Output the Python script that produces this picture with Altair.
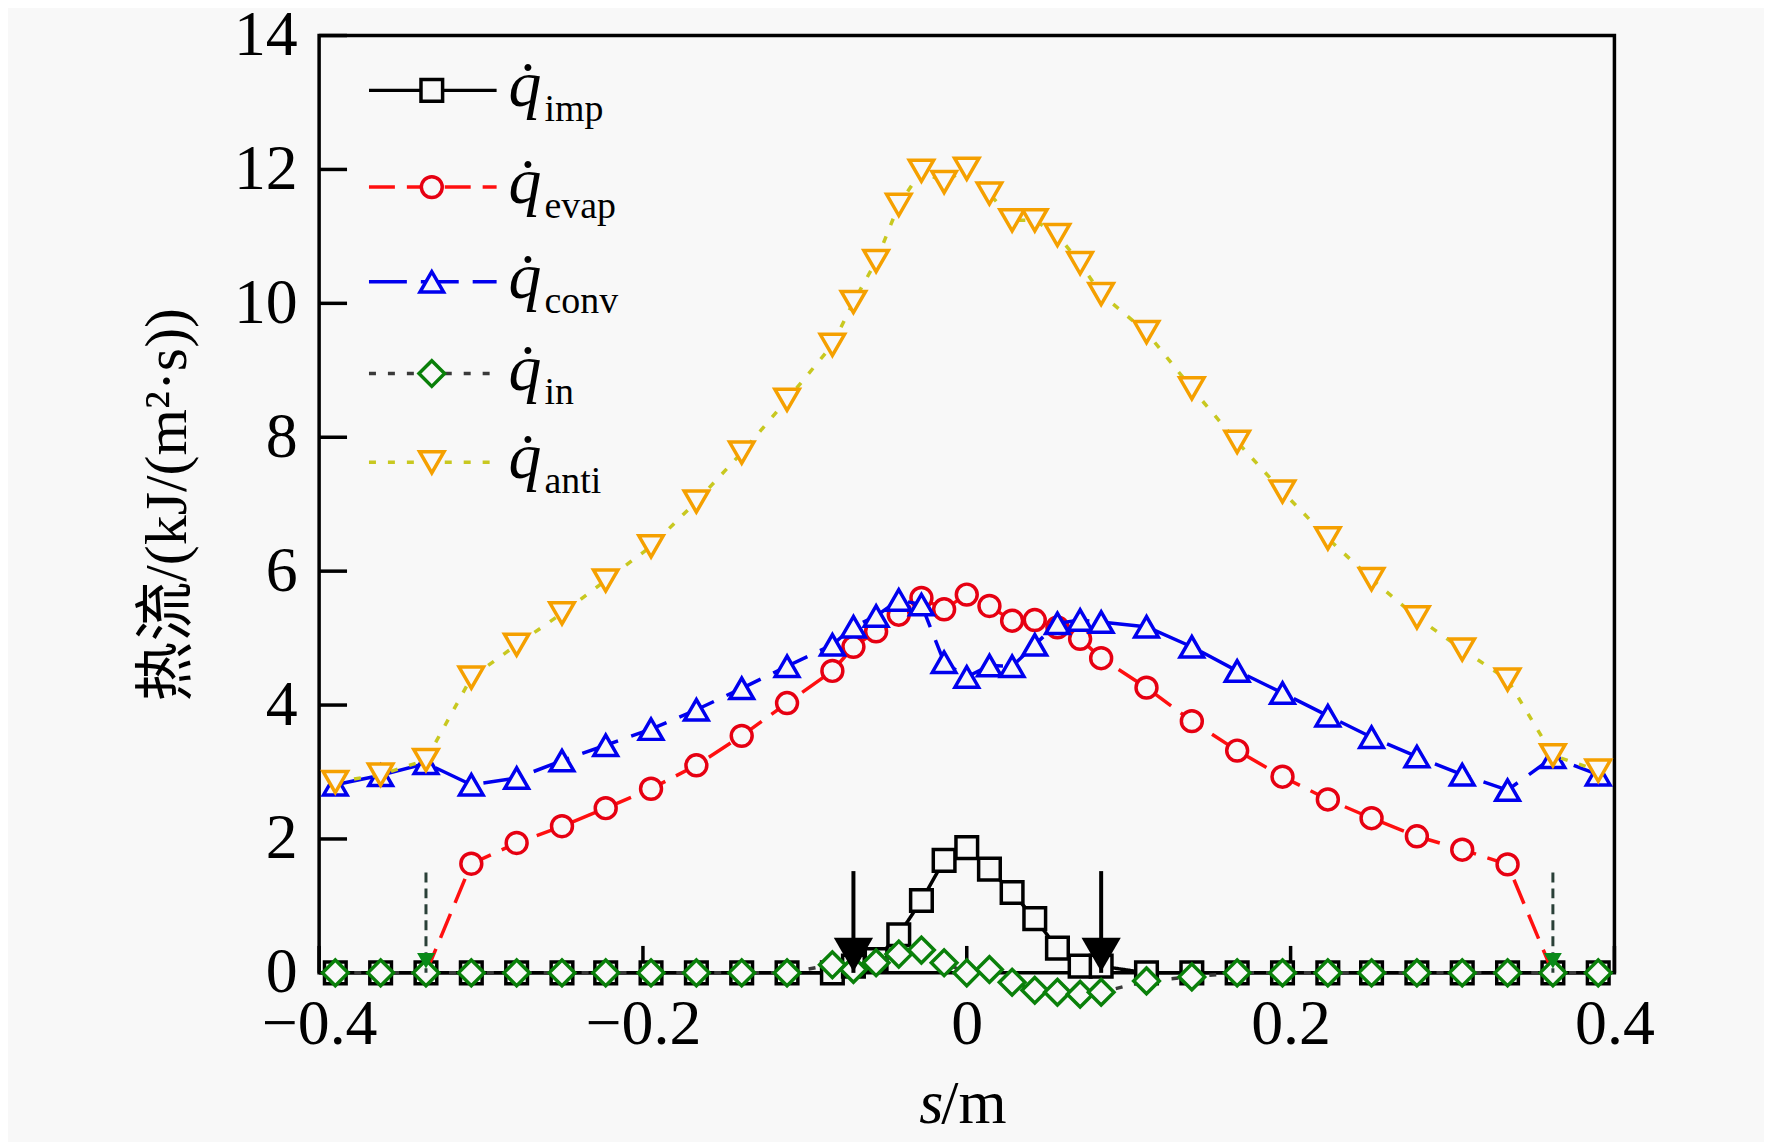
import altair as alt
import pandas as pd

# ---------------- data ----------------
s_m = [-0.390, -0.362, -0.334, -0.306, -0.278, -0.250, -0.223, -0.195, -0.167, -0.139, -0.111,
       -0.083, -0.070, -0.056, -0.042, -0.028, -0.014, 0.000, 0.014, 0.028, 0.042, 0.056, 0.070, 0.083,
       0.111, 0.139, 0.167, 0.195, 0.223, 0.250, 0.278, 0.306, 0.334, 0.362, 0.390]

q_imp = [0, 0, 0, 0, 0, 0, 0, 0, 0, 0, 0,
         0, 0.10, 0.20, 0.57, 1.08, 1.68, 1.87, 1.55, 1.20, 0.81, 0.37, 0.10, 0.10,
         0, 0, 0, 0, 0, 0, 0, 0, 0, 0, 0]

q_evap = [None, None, 0.0, 1.63, 1.94, 2.19, 2.46, 2.75, 3.10, 3.54, 4.03,
          4.51, 4.87, 5.10, 5.35, 5.60, 5.43, 5.65, 5.48, 5.26, 5.27, 5.16, 4.99, 4.70,
          4.26, 3.76, 3.32, 2.93, 2.59, 2.31, 2.04, 1.84, 1.62, 0.0, None]

q_conv = [2.81, 2.95, 3.13, 2.81, 2.91, 3.17, 3.40, 3.64, 3.93, 4.25, 4.58,
          4.90, 5.17, 5.33, 5.57, 5.50, 4.64, 4.42, 4.59, 4.58, 4.90, 5.22, 5.27, 5.24,
          5.17, 4.87, 4.51, 4.18, 3.84, 3.52, 3.23, 2.96, 2.73, 3.22, 2.96]

q_in = [0, 0, 0, 0, 0, 0, 0, 0, 0, 0, 0,
        0.12, 0.05, 0.15, 0.28, 0.34, 0.15, 0.00, 0.05, -0.14, -0.26, -0.29, -0.32, -0.29,
        -0.12, -0.06, 0, 0, 0, 0, 0, 0, 0, 0, 0]

q_anti = [2.85, 2.96, 3.18, 4.41, 4.90, 5.37, 5.86, 6.37, 7.04, 7.77, 8.56,
          9.38, 10.02, 10.63, 11.47, 11.98, 11.81, 12.01, 11.64, 11.24, 11.24, 11.02, 10.60, 10.14,
          9.57, 8.73, 7.93, 7.19, 6.49, 5.88, 5.31, 4.83, 4.38, 3.25, 3.02]

subscripts = ["imp", "evap", "conv", "in", "anti"]

# impingement-limit arrows (black) and icing-onset arrows (green)
arrow_s = [-0.070, 0.083]
arrow_top = [1.52, 1.52]
arrow_head = [0.27, 0.27]
onset_s = [-0.334, 0.362]
onset_top = [1.50, 1.50]
onset_head = [0.18, 0.18]

x_ticks = [-0.4, -0.2, 0.0, 0.2, 0.4]
y_ticks = [0, 2, 4, 6, 8, 10, 12, 14]

# ---------------- styles ----------------
BG = "#f8f8f8"
SERIF = "Liberation Serif, Noto Sans CJK SC"
W, H = 1299, 940
LW = 3.5

styles = [
    dict(line="black", dash=[1, 0], shape="square", size=470, stroke="black", hide_zero=False),
    dict(line="#ff1010", dash=[26, 12], shape="circle", size=440, stroke="#e60012", hide_zero=True),
    dict(line="#0000ee", dash=[38, 14], shape="triangle-up", size=560, stroke="#0000ee", hide_zero=False),
    dict(line="#3a3a3a", dash=[7, 12], shape="diamond", size=660, stroke="#0a800a", hide_zero=False),
    dict(line="#c8c820", dash=[7, 12], shape="triangle-down", size=600, stroke="#f5a000", hide_zero=False),
]
series_vals = [q_imp, q_evap, q_conv, q_in, q_anti]
legend_y = [55, 152, 247, 339, 428]

xsc = alt.Scale(domain=[-0.4, 0.4], nice=False, zero=False)
ysc = alt.Scale(domain=[0, 14], nice=False, zero=False)

xax = alt.Axis(values=x_ticks, format=".1~f", title=None, grid=False, domain=False, ticks=False,
               labelFont=SERIF, labelFontSize=64, labelColor="black", labelPadding=20,
               labelFlush=False, labelOverlap=False)
yax = alt.Axis(values=y_ticks, format="d", title="热流/(kJ/(m²·s))", grid=False, domain=False,
               ticks=False, labelFont=SERIF, labelFontSize=64, labelColor="black", labelPadding=22,
               labelFlush=False, labelOverlap=False,
               titleFont=SERIF, titleFontSize=60, titleFontWeight="normal", titleColor="black",
               titleX=-152, titleY=470, titleAngle=270, titleAlign="center", titleBaseline="middle")


def X(field="s"):
    return alt.X(f"{field}:Q", scale=xsc, axis=xax)


def Y(field="v"):
    return alt.Y(f"{field}:Q", scale=ysc, axis=yax)


layers = []

# inward ticks
layers.append(
    alt.Chart(pd.DataFrame({"s": x_ticks})).mark_rule(color="black", strokeWidth=3.5)
    .encode(x=X(), y=alt.value(H), y2=alt.value(H - 27))
)
layers.append(
    alt.Chart(pd.DataFrame({"v": y_ticks})).mark_rule(color="black", strokeWidth=3.5)
    .encode(y=Y(), x=alt.value(0), x2=alt.value(28))
)

# series
for vals, st in zip(series_vals, styles):
    df = pd.DataFrame({"s": s_m, "v": vals}).dropna()
    layers.append(
        alt.Chart(df).mark_line(color=st["line"], strokeDash=st["dash"], strokeWidth=LW)
        .encode(x=X(), y=Y())
    )
    pdf = df[df["v"] != 0] if st["hide_zero"] else df
    layers.append(
        alt.Chart(pdf).mark_point(shape=st["shape"], size=st["size"], filled=True, fill=BG,
                                  stroke=st["stroke"], strokeWidth=LW, opacity=1)
        .encode(x=X(), y=Y())
    )

# black arrows
adf = pd.DataFrame({"s": arrow_s, "v": arrow_top, "v2": [0.0, 0.0], "h": arrow_head})
layers.append(
    alt.Chart(adf).mark_rule(color="black", strokeWidth=4)
    .encode(x=X(), y=Y(), y2="v2:Q")
)
layers.append(
    alt.Chart(adf).mark_point(shape="triangle-down", size=1550, filled=True, color="black", opacity=1)
    .encode(x=X(), y=Y("h"))
)

# green onset arrows
odf = pd.DataFrame({"s": onset_s, "v": onset_top, "v2": [0.0, 0.0], "h": onset_head})
layers.append(
    alt.Chart(odf).mark_rule(color="#2a4038", strokeWidth=3, strokeDash=[10, 6])
    .encode(x=X(), y=Y(), y2="v2:Q")
)
layers.append(
    alt.Chart(odf).mark_point(shape="triangle-down", size=320, filled=True, color="#0a8a1a", opacity=1)
    .encode(x=X(), y=Y("h"))
)

# legend
one = pd.DataFrame({"a": [0]})
for ry, st, sub in zip(legend_y, styles, subscripts):
    layers.append(
        alt.Chart(one).mark_rule(color=st["line"], strokeDash=st["dash"], strokeWidth=LW)
        .encode(x=alt.value(50), x2=alt.value(178), y=alt.value(ry))
    )
    layers.append(
        alt.Chart(one).mark_point(shape=st["shape"], size=st["size"], filled=True, fill=BG,
                                  stroke=st["stroke"], strokeWidth=LW, opacity=1)
        .encode(x=alt.value(113), y=alt.value(ry))
    )
    layers.append(
        alt.Chart(one).mark_text(text="q\u0307", font=SERIF, fontStyle="italic", fontSize=66,
                                 align="left", baseline="alphabetic", color="black")
        .encode(x=alt.value(190), y=alt.value(ry + 16))
    )
    layers.append(
        alt.Chart(one).mark_text(text=sub, font=SERIF, fontSize=38, align="left",
                                 baseline="alphabetic", color="black")
        .encode(x=alt.value(226), y=alt.value(ry + 31))
    )

# x-axis title "s/m" with italic s
layers.append(
    alt.Chart(one).mark_text(text="s", font=SERIF, fontStyle="italic", fontSize=62,
                             align="right", baseline="alphabetic", color="black")
    .encode(x=alt.value(626), y=alt.value(1091))
)
layers.append(
    alt.Chart(one).mark_text(text="/m", font=SERIF, fontSize=62,
                             align="left", baseline="alphabetic", color="black")
    .encode(x=alt.value(624), y=alt.value(1091))
)

chart = (
    alt.layer(*layers)
    .properties(width=W, height=H, autosize="none",
                padding={"left": 312, "top": 26, "right": 150, "bottom": 168})
    .configure(background=BG)
    .configure_view(stroke="black", strokeWidth=3.5, fill=BG)
)

chart.save("out.html", embed_options={"renderer": "svg", "actions": False})
